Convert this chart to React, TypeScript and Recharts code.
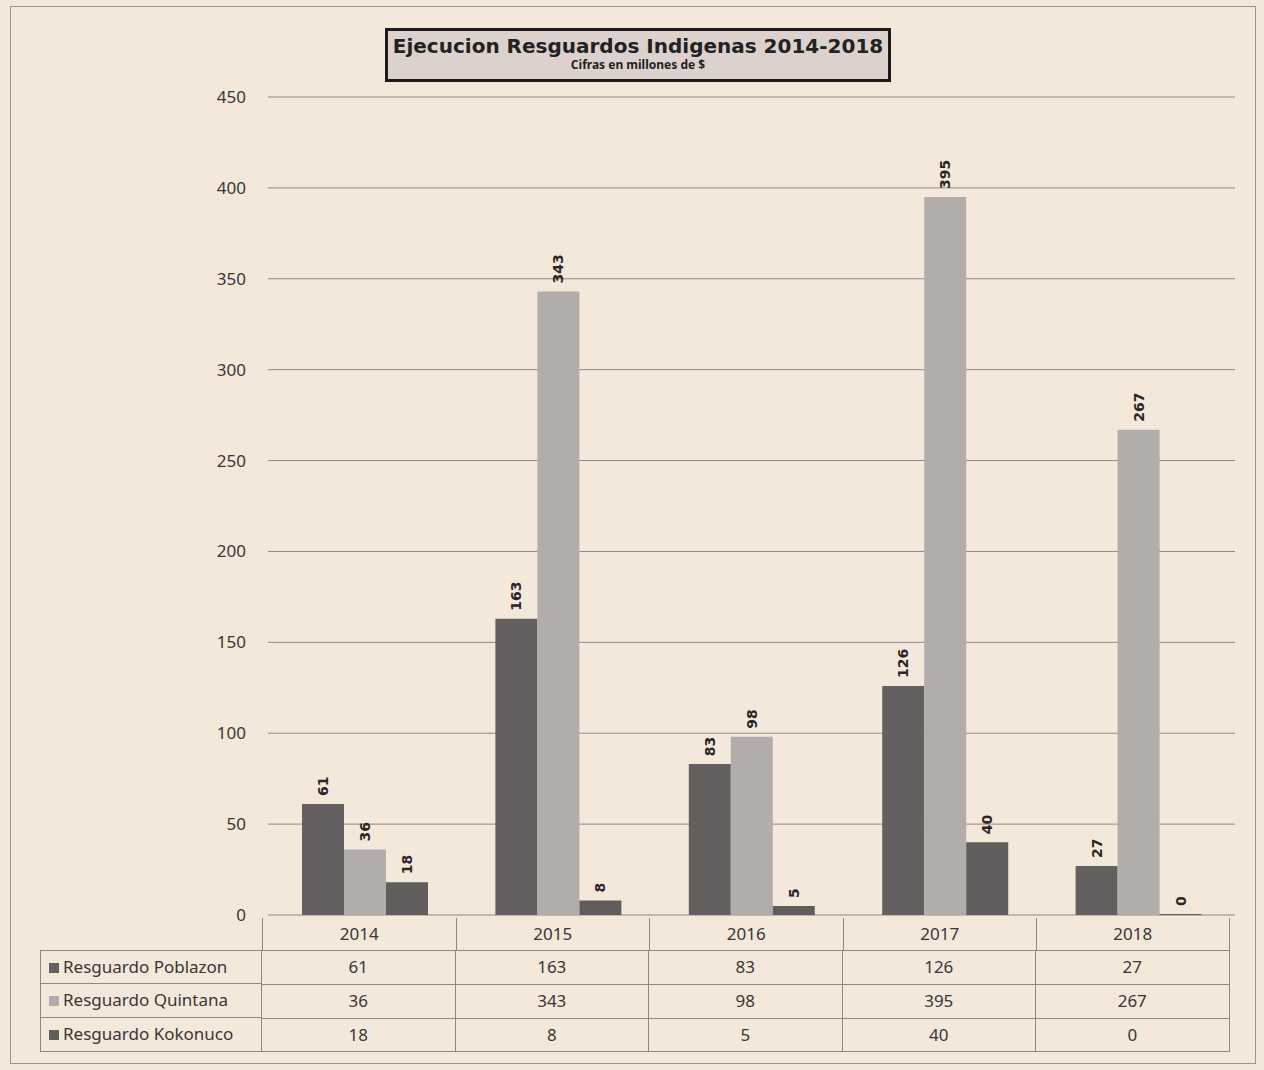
import React from "react";
import { BarChart, Bar, XAxis, YAxis, CartesianGrid } from "recharts";

const years = ["2014", "2015", "2016", "2017", "2018"];
const poblazon = [61, 163, 83, 126, 27];
const quintana = [36, 343, 98, 395, 267];
const kokonuco = [18, 8, 5, 40, 0];
const yTicks = [0, 50, 100, 150, 200, 250, 300, 350, 400, 450];

const series = [
  { key: "poblazon", name: "Resguardo Poblazon", values: poblazon, color: "#656060" },
  { key: "quintana", name: "Resguardo Quintana", values: quintana, color: "#b2acaa" },
  { key: "kokonuco", name: "Resguardo Kokonuco", values: kokonuco, color: "#625d5d" },
];

const data = years.map((year, i) => ({
  year,
  poblazon: poblazon[i],
  quintana: quintana[i],
  kokonuco: kokonuco[i],
}));

const font = "'Noto Sans', 'Open Sans', sans-serif";
const textColor = "#3a3636";

const ValueLabel = (props: any) => {
  const { x, y, width, height, value } = props;
  const top = Math.min(y, y + (height || 0));
  const cx = x + width / 2 + 5;
  const cy = top - 8;
  return (
    <text
      x={cx}
      y={cy}
      transform={`rotate(-90 ${cx} ${cy})`}
      textAnchor="start"
      fontFamily="'DejaVu Sans', sans-serif"
      fontWeight="bold"
      fontSize={14}
      fill="#2a2626"
    >
      {value}
    </text>
  );
};

const colLeft = 262;
const colWidth = 193.5;

export default function App() {
  return (
    <div
      style={{
        position: "absolute",
        left: 0,
        top: 0,
        width: 1264,
        height: 1070,
        background: "#f4e8da",
        fontFamily: font,
        overflow: "hidden",
      }}
    >
      <div
        style={{
          position: "absolute",
          left: 10,
          top: 6,
          width: 1244,
          height: 1056,
          border: "1px solid #9a9490",
        }}
      />
      <BarChart
        width={1264}
        height={930}
        data={data}
        margin={{ top: 97, right: 29, bottom: 15, left: 0 }}
        barGap={0}
        barSize={42}
        style={{ position: "absolute", left: 0, top: 0 }}
      >
        <CartesianGrid vertical={false} stroke="#8e8884" strokeWidth={1} />
        <XAxis dataKey="year" hide />
        <YAxis
          width={268}
          domain={[0, 450]}
          ticks={yTicks}
          axisLine={false}
          tickLine={false}
          tick={{ fill: textColor, fontSize: 17, fontFamily: font }}
          tickMargin={16}
        />
        {series.map((s) => (
          <Bar
            key={s.key}
            dataKey={s.key}
            name={s.name}
            fill={s.color}
            minPointSize={1}
            isAnimationActive={false}
            label={ValueLabel}
          />
        ))}
      </BarChart>

      <div
        style={{
          position: "absolute",
          left: 385,
          top: 28,
          width: 500,
          height: 48,
          background: "#ddd1cd",
          border: "3px solid #1e1a1a",
          textAlign: "center",
          color: "#222",
        }}
      >
        <div style={{ fontFamily: "'DejaVu Sans', sans-serif", fontWeight: "bold", fontSize: 20, marginTop: 3 }}>
          Ejecucion Resguardos Indigenas 2014-2018
        </div>
        <div style={{ fontFamily: font, fontWeight: "bold", fontSize: 12, marginTop: -2 }}>
          Cifras en millones de $
        </div>
      </div>

      {/* data table */}
      <div style={{ position: "absolute", left: 0, top: 0 }}>
        {years.map((y, i) => (
          <div
            key={y}
            style={{
              position: "absolute",
              left: colLeft + i * colWidth,
              top: 918,
              width: colWidth,
              height: 32,
              borderLeft: "1px solid #8e8884",
              borderRight: i === years.length - 1 ? "1px solid #8e8884" : undefined,
              textAlign: "center",
              fontSize: 17,
              lineHeight: "32px",
              color: textColor,
              boxSizing: "border-box",
            }}
          >
            {y}
          </div>
        ))}
        {series.map((s, r) => (
          <React.Fragment key={s.key}>
            <div
              style={{
                position: "absolute",
                left: 40,
                top: 950 + r * 34,
                width: colLeft - 40,
                height: 34,
                border: "1px solid #8e8884",
                borderTop: r === 0 ? "1px solid #8e8884" : "none",
                boxSizing: "border-box",
                fontSize: 17,
                lineHeight: "32px",
                color: textColor,
                paddingLeft: 8,
                whiteSpace: "nowrap",
              }}
            >
              <span
                style={{
                  display: "inline-block",
                  width: 10,
                  height: 10,
                  background: s.color,
                  marginRight: 4,
                }}
              />
              {s.name}
            </div>
            {s.values.map((v, i) => (
              <div
                key={i}
                style={{
                  position: "absolute",
                  left: colLeft + i * colWidth,
                  top: 950 + r * 34,
                  width: colWidth,
                  height: 34,
                  borderTop: "1px solid #8e8884",
                  borderBottom: r === series.length - 1 ? "1px solid #8e8884" : undefined,
                  borderRight: "1px solid #8e8884",
                  boxSizing: "border-box",
                  textAlign: "center",
                  fontSize: 17,
                  lineHeight: "32px",
                  color: textColor,
                }}
              >
                {v}
              </div>
            ))}
          </React.Fragment>
        ))}
      </div>
    </div>
  );
}
